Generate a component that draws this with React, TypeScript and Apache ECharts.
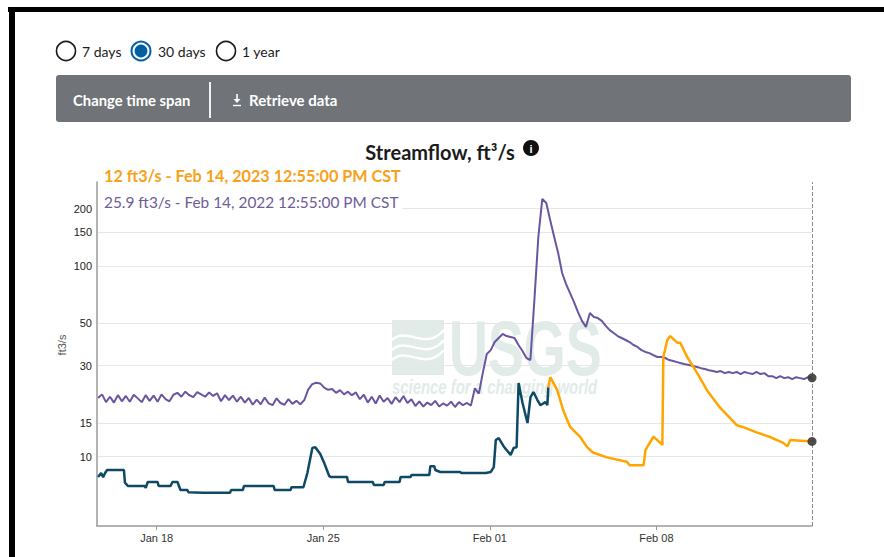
import React, { useEffect, useRef } from 'react';
import * as echarts from 'echarts';

// ---------- data ----------
const YEAR = 2023;
const X_MIN = '01-15 11:50';
const X_MAX = '02-14 12:55';
const X_TICKS = ['01-18 00:00', '01-25 00:00', '02-01 00:00', '02-08 00:00'];
const Y_TICKS = [10, 15, 30, 50, 100, 150, 200];
const Y_MIN = 4.32;
const Y_MAX = 276;

const currentLabel = '12 ft3/s - Feb 14, 2023 12:55:00 PM CST';
const lastYearLabel = '25.9 ft3/s - Feb 14, 2022 12:55:00 PM CST';
const timeSpans = ['7 days', '30 days', '1 year'];

// approved (dark blue)
const approvedTimes = [
  '01-15 12:55', '01-15 16:00', '01-15 18:00', '01-15 20:00', '01-15 22:00', '01-16 15:00', '01-16 16:00', '01-16 19:00',
  '01-17 12:00', '01-17 13:00', '01-17 15:00', '01-18 01:00', '01-18 02:00', '01-18 14:00', '01-18 16:00', '01-18 21:00',
  '01-19 00:00', '01-19 07:00', '01-19 08:00', '01-19 23:00', '01-21 02:00', '01-21 03:00', '01-21 15:00', '01-21 16:00',
  '01-22 22:00', '01-22 23:00', '01-23 15:00', '01-23 16:00', '01-24 04:00', '01-24 08:00', '01-24 13:00', '01-24 16:00',
  '01-24 21:00', '01-25 01:00', '01-25 06:00', '01-25 08:00', '01-26 00:00', '01-26 01:00', '01-27 02:00', '01-27 03:00',
  '01-27 13:00', '01-27 14:00', '01-28 05:00', '01-28 06:00', '01-28 16:00', '01-28 17:00', '01-29 11:00', '01-29 12:00',
  '01-29 16:00', '01-29 17:00', '01-29 22:00', '01-30 18:00', '01-30 19:00', '01-31 20:00', '02-01 01:00', '02-01 04:00',
  '02-01 06:00', '02-01 09:00', '02-01 14:00', '02-01 21:00', '02-02 00:00', '02-02 03:00', '02-02 05:00', '02-02 09:00',
  '02-02 14:00', '02-02 17:00', '02-02 20:00', '02-03 00:00', '02-03 03:00', '02-03 08:00', '02-03 10:00', '02-03 11:00',
];
const approvedValues = [
  7.8, 8.2, 7.8, 8.2, 8.5, 8.5, 7.3, 7.0,
  7.0, 6.85, 7.35, 7.35, 7.0, 7.0, 7.35, 7.35,
  6.67, 6.67, 6.5, 6.45, 6.45, 6.67, 6.67, 7.0,
  7.0, 6.67, 6.67, 6.9, 6.9, 8.2, 11.1, 11.2,
  10.3, 9.25, 7.9, 7.8, 7.8, 7.35, 7.35, 7.1,
  7.1, 7.35, 7.35, 7.8, 7.8, 8.0, 8.0, 8.9,
  8.9, 8.5, 8.3, 8.3, 8.2, 8.2, 8.3, 8.8,
  12.2, 12.5, 11.3, 10.2, 11.1, 11.2, 24.3, 19.1,
  15.0, 20.5, 21.8, 19.8, 18.6, 19.3, 18.6, 23.1,
];

// provisional (orange)
const provisionalTimes = [
  '02-03 11:00', '02-03 13:00', '02-03 20:00', '02-04 02:00', '02-04 09:00', '02-04 19:00', '02-05 02:00', '02-05 08:00',
  '02-05 22:00', '02-06 18:00', '02-06 21:00', '02-07 11:00', '02-07 13:00', '02-07 16:00', '02-07 21:00', '02-08 01:00',
  '02-08 06:00', '02-08 07:00', '02-08 11:00', '02-08 14:00', '02-08 21:00', '02-09 00:00', '02-09 07:00', '02-09 17:00',
  '02-10 03:00', '02-10 16:00', '02-11 09:00', '02-11 15:00', '02-12 05:00', '02-12 18:00', '02-13 08:00', '02-13 12:00',
  '02-13 15:00', '02-14 12:55',
];
const provisionalValues = [
  23.1, 26.1, 22.3, 17.5, 14.3, 12.7, 11.2, 10.5,
  9.9, 9.4, 9.0, 9.0, 10.8, 11.5, 12.7, 12.2,
  11.5, 33.3, 40.9, 42.9, 39.6, 39.6, 33.3, 27.5,
  22.3, 18.1, 14.6, 14.3, 13.4, 12.7, 11.8, 11.3,
  12.2, 12.0,
];

// last year (purple), one reading every 4 hours
const lastYearStart = '01-15 12:55';
const lastYearStepHours = 4;
const lastYearValues = [
  20.3, 21.2, 19.3, 20.6, 19.2, 21.0, 19.5, 20.8, 19.4, 21.1, 20.2, 19.3, 21.0, 19.6, 20.9, 19.4, 21.2, 20.0, 19.5, 21.1,
  21.6, 20.6, 21.9, 21.0, 20.5, 21.8, 21.2, 20.6, 21.7, 20.8, 21.5,
  19.5, 21.0, 19.8, 20.9, 19.4, 20.6,
  19.2, 20.3, 18.7, 19.9, 18.8, 20.4, 19.0, 18.6, 20.2, 19.1, 18.7, 20.0, 18.9, 19.6, 18.8,
  19.8, 22.5, 24.0, 24.4, 24.2, 23.0, 22.4, 22.6,
  21.6, 22.3, 21.2, 21.9, 21.0, 21.7,
  20.0, 21.1, 19.2, 20.6, 19.0, 20.9, 19.4, 20.3, 18.9, 20.5, 19.3, 20.8, 19.1, 20.0,
  18.4, 19.5, 18.3, 19.2, 18.6, 19.6, 18.3, 19.0, 18.5, 19.4, 18.2, 19.3, 18.6, 19.1, 18.5,
  22.8, 21.4, 27.5, 34.5, 36.2, 39.9, 41.9, 44.0, 42.9, 42.4, 41.9, 38.5, 35.8, 32.9, 32.1,
  66, 142, 225, 214, 174, 142, 117, 91.9, 80.4, 72.1, 64.7, 57.3, 51.5, 47.9,
  56.7, 54.0, 53.3, 51.5, 48.5, 46.1, 44.5, 42.9, 41.9, 40.9, 39.9, 38.5, 37.6, 36.2, 35.4, 34.9, 34.1,
  33.3, 33.3, 32.9, 32.1, 31.7, 31.3, 30.9, 30.5, 30.2, 29.9, 29.5, 29.1, 28.8, 28.4, 28.1, 27.8, 28.1, 27.4, 27.8, 27.4,
  27.8, 27.1, 27.8, 27.4, 27.1, 27.8, 27.1, 27.4, 26.4, 26.4, 25.8, 26.4, 25.8, 26.1, 25.5, 26.1, 25.8, 25.5, 26.1, 25.9,
];

// ---------- helpers ----------
const MONTHS = ['Jan', 'Feb', 'Mar', 'Apr', 'May', 'Jun', 'Jul', 'Aug', 'Sep', 'Oct', 'Nov', 'Dec'];
const ts = (s: string) => {
  const [d, t] = s.split(' ');
  const [mo, da] = d.split('-').map(Number);
  const [h, mi] = t.split(':').map(Number);
  return new Date(YEAR, mo - 1, da, h, mi).getTime();
};

const UI_FONT = 'Lato';
const AX_FONT = 'Liberation Sans';
const PURPLE = '#6a56a0';
const NAVY = '#0e4a66';
const ORANGE = '#ffa500';
const WM = '#e1ebe7';

export default function App() {
  const ref = useRef<HTMLDivElement>(null);

  useEffect(() => {
    if (!ref.current) return;
    const chart = echarts.init(ref.current, undefined, { renderer: 'svg' });

    const xTickValues = X_TICKS.map(ts);
    const start = ts(lastYearStart);
    const purpleData = lastYearValues.map((v, i) => [start + i * lastYearStepHours * 3600e3, v]);
    const navyData = approvedTimes.map((t, i) => [ts(t), approvedValues[i]]);
    const orangeData = provisionalTimes.map((t, i) => [ts(t), provisionalValues[i]]);
    const endT = ts(X_MAX);

    const txt = (x: number, y: number, text: string, font: string, fill: string, extra: any = {}) => ({
      type: 'text', x, y, z: 50, silent: true,
      style: { text, font, fill, textVerticalAlign: 'middle', verticalAlign: 'middle', ...extra },
    });

    const radioX = [66, 141, 226];
    const radioTextX = [82, 158, 242];
    const radios: any[] = [];
    timeSpans.forEach((label, i) => {
      const selected = i === 1;
      radios.push({
        type: 'circle', z: 50, silent: true,
        shape: { cx: radioX[i], cy: 51, r: 9.5 },
        style: { fill: '#fff', stroke: selected ? '#005ea2' : '#1b1b1b', lineWidth: selected ? 2 : 1.6 },
      });
      if (selected) {
        radios.push({
          type: 'circle', z: 51, silent: true,
          shape: { cx: radioX[i], cy: 51, r: 6.4 },
          style: { fill: '#005ea2' },
        });
      }
      radios.push(txt(radioTextX[i], 51, label, `14px ${UI_FONT}`, '#1b1b1b'));
    });

    const option: any = {
      animation: false,
      backgroundColor: '#ffffff',
      grid: { left: 97, right: 72, top: 182, bottom: 31, containLabel: false },
      xAxis: {
        type: 'value',
        min: ts(X_MIN),
        max: endT,
        axisLine: { onZero: false, lineStyle: { color: '#9a9a9a', width: 1.5 } },
        axisTick: { show: true, length: 4, customValues: xTickValues, lineStyle: { color: '#9a9a9a', width: 1 } },
        axisLabel: {
          customValues: xTickValues,
          formatter: (v: number) => {
            const d = new Date(v);
            return MONTHS[d.getMonth()] + ' ' + String(d.getDate()).padStart(2, '0');
          },
          color: '#333',
          fontSize: 11,
          fontFamily: AX_FONT,
          margin: 6,
        },
        splitLine: { show: false },
      },
      yAxis: {
        type: 'log',
        logBase: 10,
        min: Y_MIN,
        max: Y_MAX,
        axisLine: { show: true, onZero: false, lineStyle: { color: '#9a9a9a', width: 1.5 } },
        axisTick: { show: false, customValues: Y_TICKS },
        axisLabel: {
          customValues: Y_TICKS,
          formatter: (v: number) => String(Math.round(v)),
          color: '#222',
          fontSize: 11,
          fontFamily: AX_FONT,
          margin: 5,
        },
        splitLine: { show: true, lineStyle: { color: '#e6e6e6', width: 1.2 } },
        minorTick: { show: false },
        minorSplitLine: { show: false },
      },
      series: [
        {
          type: 'line', data: purpleData, showSymbol: false, z: 3,
          lineStyle: { color: PURPLE, width: 2 }, itemStyle: { color: PURPLE },
        },
        {
          type: 'line', data: navyData, showSymbol: false, z: 4,
          lineStyle: { color: NAVY, width: 2.5 }, itemStyle: { color: NAVY },
        },
        {
          type: 'line', data: orangeData, showSymbol: false, z: 5,
          lineStyle: { color: ORANGE, width: 2.5 }, itemStyle: { color: ORANGE },
        },
        {
          type: 'scatter', z: 6,
          data: [
            [endT, lastYearValues[lastYearValues.length - 1]],
            [endT, provisionalValues[provisionalValues.length - 1]],
          ],
          symbolSize: 9,
          itemStyle: { color: '#3b3b3b', opacity: 0.9 },
          markLine: {
            silent: true, symbol: 'none', label: { show: false },
            lineStyle: { type: 'dashed', color: '#8a8a8a', width: 1 },
            data: [{ xAxis: endT }],
          },
        },
      ],
      graphic: [
        // page frame
        { type: 'rect', z: 100, silent: true, shape: { x: 8, y: 7, width: 876, height: 5 }, style: { fill: '#000' } },
        { type: 'rect', z: 100, silent: true, shape: { x: 9, y: 7, width: 6, height: 550 }, style: { fill: '#000' } },
        ...radios,
        // button bar
        { type: 'rect', z: 40, silent: true, shape: { x: 56, y: 75, width: 795, height: 47, r: 3 }, style: { fill: '#707478' } },
        txt(73, 100, 'Change time span', `bold 14.8px ${UI_FONT}`, '#fff'),
        { type: 'line', z: 50, silent: true, shape: { x1: 210, y1: 82, x2: 210, y2: 118 }, style: { stroke: '#f2f2f2', lineWidth: 2 } },
        { type: 'line', z: 50, silent: true, shape: { x1: 237, y1: 94, x2: 237, y2: 100 }, style: { stroke: '#fff', lineWidth: 1.6 } },
        { type: 'polygon', z: 50, silent: true, shape: { points: [[233.5, 99], [240.5, 99], [237, 103]] }, style: { fill: '#fff' } },
        { type: 'line', z: 50, silent: true, shape: { x1: 233, y1: 105.5, x2: 241, y2: 105.5 }, style: { stroke: '#fff', lineWidth: 1.4 } },
        txt(249, 100, 'Retrieve data', `bold 15px ${UI_FONT}`, '#fff'),
        // title
        txt(440, 152, 'Streamflow, ft³/s', `bold 20px ${UI_FONT}`, '#1b1b1b', { textAlign: 'center', align: 'center' }),
        { type: 'circle', z: 50, silent: true, shape: { cx: 531, cy: 148, r: 8 }, style: { fill: '#111' } },
        txt(531, 148.5, 'i', `bold 11px ${AX_FONT}`, '#fff', { textAlign: 'center', align: 'center' }),
        // current value labels
        { type: 'rect', z: 20, silent: true, shape: { x: 98, y: 194, width: 304, height: 18 }, style: { fill: '#fff' } },
        txt(104, 175, currentLabel, `bold 16.2px ${UI_FONT}`, '#f9a11b'),
        txt(104, 202, lastYearLabel, `15.4px ${UI_FONT}`, '#6d5d98'),
        // y axis name
        {
          type: 'text', x: 62, y: 345, rotation: Math.PI / 2, z: 50, silent: true,
          style: { text: 'ft3/s', font: `11px ${AX_FONT}`, fill: '#555', textAlign: 'center', align: 'center', textVerticalAlign: 'middle', verticalAlign: 'middle' },
        },
        // watermark
        {
          type: 'group', z: 1, silent: true,
          children: [
            { type: 'rect', shape: { x: 392, y: 320, width: 52, height: 55 }, style: { fill: WM } },
            { type: 'bezierCurve', shape: { x1: 392, y1: 340, cpx1: 408, cpy1: 326, cpx2: 425, cpy2: 352, x2: 444, y2: 330 }, style: { stroke: '#fff', lineWidth: 2.5, fill: null } },
            { type: 'bezierCurve', shape: { x1: 392, y1: 350, cpx1: 408, cpy1: 336, cpx2: 425, cpy2: 362, x2: 444, y2: 340 }, style: { stroke: '#fff', lineWidth: 2.5, fill: null } },
            { type: 'bezierCurve', shape: { x1: 392, y1: 360, cpx1: 408, cpy1: 346, cpx2: 425, cpy2: 372, x2: 444, y2: 350 }, style: { stroke: '#fff', lineWidth: 2.5, fill: null } },
            { type: 'text', x: 449, y: 348, scaleX: 0.7, style: { text: 'USGS', font: `bold 77px ${AX_FONT}`, fill: WM, textVerticalAlign: 'middle', verticalAlign: 'middle' } },
            { type: 'text', x: 392, y: 387, scaleX: 0.745, style: { text: 'science for a changing world', font: `italic bold 20px ${AX_FONT}`, fill: WM, textVerticalAlign: 'middle', verticalAlign: 'middle' } },
          ],
        },
      ],
    };

    chart.setOption(option);
    return () => chart.dispose();
  }, []);

  return (
    <div
      ref={ref}
      style={{ position: 'fixed', left: 0, top: 0, width: 884, height: 557, background: '#fff' }}
    />
  );
}
